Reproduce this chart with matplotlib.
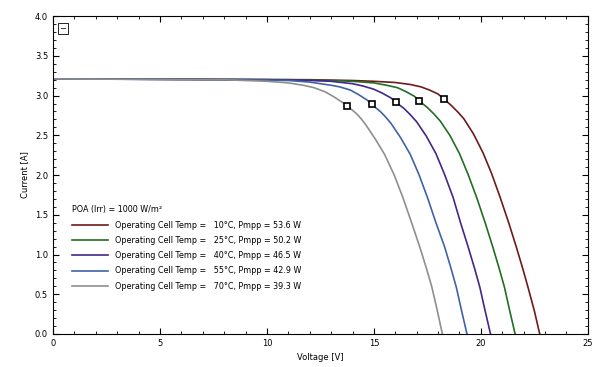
import matplotlib
matplotlib.use('Agg')
import matplotlib.pyplot as plt
from matplotlib.ticker import MultipleLocator

# I-V curves (voltage [V], current [A])
temps = [10, 25, 40, 55, 70]
pmpp = [53.6, 50.2, 46.5, 42.9, 39.3]

v_10 = [0, 12, 14, 15, 16, 16.7, 17.2, 17.6, 18.0, 18.26, 18.6, 18.9, 19.2, 19.65,
        20.1, 20.5, 20.9, 21.3, 21.65, 21.95, 22.2, 22.5, 22.75]
i_10 = [3.21, 3.20, 3.19, 3.18, 3.165, 3.14, 3.11, 3.07, 3.02, 2.96, 2.88, 2.80, 2.71, 2.52,
        2.28, 2.02, 1.72, 1.40, 1.10, 0.83, 0.59, 0.29, 0.0]
v_25 = [0, 11, 13, 14, 15, 15.6, 16.1, 16.5, 16.9, 17.13, 17.5, 17.8, 18.1, 18.55,
        19.0, 19.4, 19.8, 20.2, 20.55, 20.85, 21.1, 21.35, 21.6]
i_25 = [3.21, 3.20, 3.19, 3.18, 3.16, 3.13, 3.10, 3.05, 2.99, 2.93, 2.85, 2.77, 2.68, 2.50,
        2.27, 2.01, 1.72, 1.40, 1.10, 0.83, 0.59, 0.29, 0.0]
v_40 = [0, 10, 12, 13, 14, 14.5, 15.0, 15.4, 15.8, 16.01, 16.4, 16.7, 17.0, 17.45,
        17.9, 18.3, 18.7, 19.05, 19.4, 19.7, 19.95, 20.2, 20.45]
i_40 = [3.21, 3.20, 3.19, 3.18, 3.15, 3.12, 3.08, 3.03, 2.97, 2.92, 2.84, 2.76, 2.67, 2.49,
        2.27, 2.01, 1.72, 1.40, 1.10, 0.83, 0.59, 0.29, 0.0]
v_55 = [0, 9, 11, 12, 13, 13.4, 13.9, 14.3, 14.7, 14.89, 15.3, 15.55, 15.8, 16.25,
        16.7, 17.1, 17.5, 17.9, 18.3, 18.6, 18.85, 19.1, 19.35]
i_55 = [3.21, 3.20, 3.19, 3.17, 3.13, 3.11, 3.07, 3.01, 2.94, 2.89, 2.80, 2.73, 2.65, 2.47,
        2.26, 2.01, 1.72, 1.40, 1.10, 0.83, 0.59, 0.29, 0.0]
v_70 = [0, 8, 10, 11, 11.7, 12.2, 12.7, 13.1, 13.5, 13.76, 14.2, 14.4, 14.6, 15.05,
        15.5, 15.95, 16.35, 16.75, 17.15, 17.45, 17.7, 17.95, 18.2]
i_70 = [3.21, 3.20, 3.18, 3.16, 3.13, 3.10, 3.05, 2.99, 2.92, 2.87, 2.77, 2.71, 2.64, 2.46,
        2.26, 2.00, 1.72, 1.41, 1.09, 0.83, 0.60, 0.31, 0.0]

# maximum power points
v_mpp = [18.26, 17.13, 16.01, 14.89, 13.76]
i_mpp = [2.96, 2.93, 2.92, 2.89, 2.87]

curves = [(v_10, i_10), (v_25, i_25), (v_40, i_40), (v_55, i_55), (v_70, i_70)]
colors = ['#6e1a1a', '#226e22', '#44268a', '#3f63a8', '#8f8f8f']

fig = plt.figure(figsize=(5.95, 3.67), dpi=100)
ax = fig.add_axes([0.089, 0.090, 0.899, 0.866])

for (v, i), c, t, p in zip(curves, colors, temps, pmpp):
    ax.plot(v, i, color=c, lw=1.2,
            label='Operating Cell Temp =   %d\u00b0C, Pmpp = %.1f W' % (t, p))

ax.plot(v_mpp, i_mpp, linestyle='none', marker='s', markersize=5,
        markerfacecolor='white', markeredgecolor='black', markeredgewidth=1.2)

ax.set_xlim(0, 25)
ax.set_ylim(0, 4.0)
ax.xaxis.set_major_locator(MultipleLocator(5))
ax.xaxis.set_minor_locator(MultipleLocator(1))
ax.yaxis.set_major_locator(MultipleLocator(0.5))
ax.yaxis.set_minor_locator(MultipleLocator(0.1))
ax.tick_params(which='both', direction='in', top=True, right=True, labelsize=6)
ax.tick_params(which='major', length=4)
ax.tick_params(which='minor', length=2)
ax.set_xlabel('Voltage [V]', fontsize=6)
ax.set_ylabel('Current [A]', fontsize=6)

leg = ax.legend(loc='upper left', bbox_to_anchor=(0.03, 0.415), frameon=False,
                fontsize=5.8, title='POA (Irr) = 1000 W/m\u00b2', title_fontsize=5.8,
                handlelength=4.5, labelspacing=0.78, borderaxespad=0)
leg._legend_box.align = 'left'

# small box in the top-left corner
ax.text(0.012, 0.975, '\u2212', transform=ax.transAxes, fontsize=6,
        ha='left', va='top',
        bbox=dict(boxstyle='square,pad=0.15', fc='white', ec='black', lw=0.6))

plt.savefig('out.png', dpi=100)
plt.close()
